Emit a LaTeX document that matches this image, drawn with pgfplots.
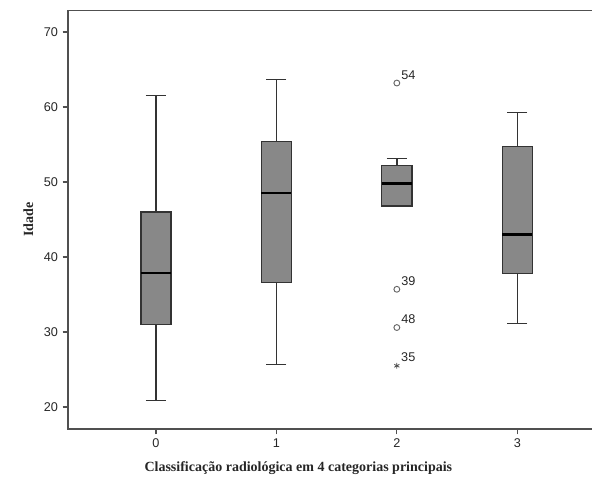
\documentclass[border=0pt]{standalone}
\usepackage{pgfplots}
\pgfplotsset{compat=1.18}
\usepgfplotslibrary{statistics}
\usepackage{fontspec}
\setmainfont{Liberation Serif}
\setsansfont{Liberation Sans}
\definecolor{boxgray}{HTML}{888888}
\definecolor{edge}{HTML}{333333}
\definecolor{axisc}{HTML}{505050}
\begin{document}
\begin{tikzpicture}
\begin{axis}[name=ax, scale only axis, width=397.5pt, height=313.7pt,
  xmin=-0.73, xmax=3.67, ymin=17.07, ymax=72.84,
  xtick={0,1,2,3}, ytick={20,30,40,50,60,70},
  tick align=outside, xtick pos=left, ytick pos=left,
  major tick length=4pt,
  axis line style={axisc, line width=1pt},
  tick style={axisc, line width=0.9pt},
  ticklabel style={font=\sffamily\fontsize{9.5}{11}\selectfont, text=black!85},
  /pgf/number format/assume math mode=true,
  xlabel={\bfseries Classificação radiológica em 4 categorias principais},
  ylabel={\bfseries Idade},
  label style={font=\fontsize{10.5}{12}\selectfont, text=black!85},
  xlabel style={xshift=-26pt, yshift=-3pt},
  ylabel style={yshift=1pt},
  boxplot/draw direction=y,
  boxplot/box extend=0.25,
  boxplot/whisker extend=0.166,
  boxplot/every median/.style={draw=black, line width=1.6pt},
]
\addplot[draw=edge, fill=boxgray, line width=1pt, boxplot prepared={lower whisker=20.9, lower quartile=31.0, median=37.9, upper quartile=46.0, upper whisker=61.5, draw position=0}] coordinates {};
\addplot[draw=edge, fill=boxgray, line width=1pt, boxplot prepared={lower whisker=25.7, lower quartile=36.6, median=48.5, upper quartile=55.4, upper whisker=63.7, draw position=1}] coordinates {};
\addplot[draw=edge, fill=boxgray, line width=1pt, boxplot prepared={lower whisker=46.8, lower quartile=46.8, median=49.8, upper quartile=52.2, upper whisker=53.1, draw position=2}] coordinates {};
\addplot[draw=edge, fill=boxgray, line width=1pt, boxplot prepared={lower whisker=31.1, lower quartile=37.8, median=43.0, upper quartile=54.7, upper whisker=59.3, draw position=3}] coordinates {};
\addplot[only marks, mark=o, mark size=2.2pt, draw=black!60, line width=0.7pt,
  nodes near coords, point meta=explicit symbolic,
  nodes near coords style={anchor=south west, inner sep=1pt, xshift=2pt, yshift=1.5pt, font=\sffamily\fontsize{9.5}{11}\selectfont, text=black!85}]
  coordinates {(2,63.2) [54] (2,35.7) [39] (2,30.6) [48]};
\addplot[only marks, mark=asterisk, mark size=2.2pt, draw=black!70, line width=0.6pt,
  nodes near coords, point meta=explicit symbolic,
  nodes near coords style={anchor=south west, inner sep=1pt, xshift=2pt, yshift=1.5pt, font=\sffamily\fontsize{9.5}{11}\selectfont, text=black!85}]
  coordinates {(2,25.5) [35]};
\end{axis}
\pgfresetboundingbox
\path[use as bounding box] ([shift={(-51pt,-40.5pt)}]ax.south west) rectangle ([shift={(393pt,321.75pt)}]ax.south west);
\end{tikzpicture}
\end{document}
